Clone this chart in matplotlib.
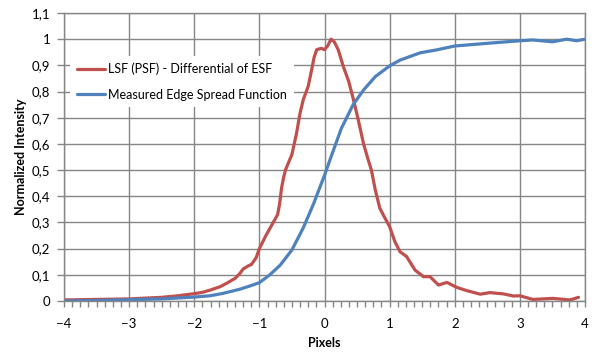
import matplotlib
matplotlib.use("Agg")
import matplotlib.pyplot as plt
from matplotlib.ticker import MultipleLocator, FuncFormatter

# LSF (PSF) - differential of ESF
lsf_x = [-4, -3.5, -3, -2.5, -2.25, -2, -1.875, -1.75, -1.6, -1.5, -1.37, -1.3,
         -1.25, -1.18, -1.12, -1.05, -1.0, -0.9, -0.78, -0.72, -0.69, -0.66,
         -0.63, -0.6, -0.55, -0.5, -0.43, -0.376, -0.325, -0.25, -0.2, -0.16,
         -0.12, -0.05, 0.0, 0.05, 0.1, 0.15, 0.21, 0.29, 0.37, 0.44, 0.52, 0.6,
         0.67, 0.72, 0.78, 0.85, 0.93, 1.0, 1.08, 1.16, 1.26, 1.39, 1.52, 1.62,
         1.75, 1.88, 2.03, 2.18, 2.39, 2.54, 2.75, 2.9, 3.0, 3.2, 3.51, 3.77, 3.9]
lsf_y = [0.004, 0.006, 0.008, 0.014, 0.02, 0.028, 0.033, 0.042, 0.055, 0.068,
         0.087, 0.105, 0.122, 0.133, 0.14, 0.165, 0.2, 0.25, 0.303, 0.33, 0.37,
         0.43, 0.47, 0.5, 0.53, 0.56, 0.64, 0.717, 0.77, 0.82, 0.88, 0.93, 0.96,
         0.965, 0.96, 0.975, 1.0, 0.99, 0.96, 0.895, 0.84, 0.774, 0.69, 0.6,
         0.54, 0.5, 0.424, 0.354, 0.316, 0.284, 0.227, 0.188, 0.17, 0.118,
         0.093, 0.093, 0.061, 0.071, 0.052, 0.04, 0.026, 0.032, 0.027, 0.019,
         0.02, 0.006, 0.01, 0.004, 0.014]

# measured edge spread function
esf_x = [-4, -3.5, -3, -2.5, -2, -1.76, -1.56, -1.3, -1.15, -1.0, -0.84, -0.68,
         -0.5, -0.325, -0.17, 0.0, 0.085, 0.26, 0.44, 0.6, 0.78, 1.0, 1.16,
         1.47, 1.72, 2.0, 2.49, 3.0, 3.2, 3.5, 3.72, 3.87, 4.0]
esf_y = [0.0, 0.002, 0.005, 0.008, 0.015, 0.02, 0.029, 0.045, 0.057, 0.07, 0.1,
         0.137, 0.195, 0.28, 0.37, 0.48, 0.54, 0.66, 0.75, 0.806, 0.857, 0.898,
         0.92, 0.948, 0.959, 0.974, 0.984, 0.994, 0.997, 0.99, 1.0, 0.994, 1.0]

plt.rcParams['font.family'] = ['Lato', 'DejaVu Sans']
grey = '#868686'

fig = plt.figure(figsize=(6.02, 3.63), dpi=100)
ax = fig.add_axes([64 / 602, 1 - 301 / 363, 521 / 602, 288 / 363])

ax.plot(lsf_x, lsf_y, color='#C0504D', lw=2.3, label='LSF (PSF) - Differential of ESF',
        solid_capstyle='round', solid_joinstyle='round')
ax.plot(esf_x, esf_y, color='#4F81BD', lw=2.3, label='Measured Edge Spread Function',
        solid_capstyle='round', solid_joinstyle='round')

ax.set_xlim(-4, 4)
ax.set_ylim(0, 1.1)
ax.xaxis.set_major_locator(MultipleLocator(1))
ax.xaxis.set_minor_locator(MultipleLocator(0.125))
ax.yaxis.set_major_locator(MultipleLocator(0.1))
ax.yaxis.set_major_formatter(FuncFormatter(lambda v, p: ('%.1f' % v).rstrip('0').rstrip('.').replace('.', ',')))

ax.grid(True, which='major', color=grey, lw=1)
ax.set_axisbelow(True)
for s in ax.spines.values():
    s.set_color(grey)
    s.set_linewidth(1)

ax.tick_params(axis='x', which='both', direction='out', color=grey, length=4, width=1)
ax.tick_params(axis='x', which='major', pad=8, labelsize=9.5)
ax.tick_params(axis='y', which='major', direction='out', color=grey, length=5, width=1,
               pad=5, labelsize=9.5)

ax.set_xlabel('Pixels', fontweight='bold', fontsize=9, labelpad=5)
ax.set_ylabel('Normalized Intensity', fontweight='bold', fontsize=9, labelpad=3)

leg = ax.legend(loc='upper left', bbox_to_anchor=(0.012, 0.85), frameon=True,
                fontsize=9, handlelength=2.3, handletextpad=0.25, labelspacing=1.1,
                borderaxespad=0, borderpad=0.5)
leg.get_frame().set_facecolor('white')
leg.get_frame().set_edgecolor('none')
leg.get_frame().set_alpha(1)
leg.get_frame().set_boxstyle('square', pad=0)

fig.savefig('out.png', dpi=100)
